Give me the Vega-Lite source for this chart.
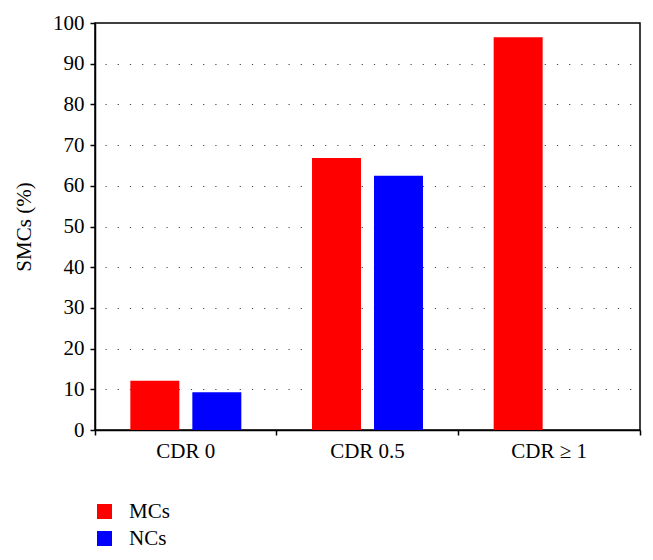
{
  "$schema": "https://vega.github.io/schema/vega-lite/v6.json",
  "autosize": {"type": "none"},
  "width": 545,
  "height": 407,
  "padding": {"left": 95, "top": 23, "right": 13, "bottom": 130},
  "background": "white",
  "config": {
    "font": "Liberation Serif",
    "view": {"stroke": "black", "strokeWidth": 1.5}
  },
  "data": {
    "values": [
      {"cdr": "CDR 0", "group": "MCs", "value": 12.1},
      {"cdr": "CDR 0", "group": "NCs", "value": 9.3},
      {"cdr": "CDR 0.5", "group": "MCs", "value": 66.8},
      {"cdr": "CDR 0.5", "group": "NCs", "value": 62.5},
      {"cdr": "CDR ≥ 1", "group": "MCs", "value": 96.5}
    ]
  },
  "mark": {"type": "bar"},
  "encoding": {
    "x": {
      "field": "cdr",
      "type": "nominal",
      "sort": ["CDR 0", "CDR 0.5", "CDR ≥ 1"],
      "scale": {"paddingInner": 0, "paddingOuter": 0},
      "axis": {
        "title": null,
        "labelAngle": 0,
        "labelFontSize": 21,
        "labelColor": "black",
        "labelPadding": 5,
        "domainColor": "black",
        "domainWidth": 1.5,
        "tickColor": "black",
        "tickWidth": 1.5,
        "tickSize": 5,
        "bandPosition": 1,
        "tickExtra": true,
        "grid": false
      }
    },
    "xOffset": {
      "field": "group",
      "type": "nominal",
      "scale": {"domain": ["MCs", "NCs"], "paddingInner": 0.21, "paddingOuter": 0.57}
    },
    "y": {
      "field": "value",
      "type": "quantitative",
      "scale": {"domain": [0, 100], "nice": false},
      "axis": {
        "title": "SMCs (%)",
        "titleFontSize": 21,
        "titleFontWeight": "normal",
        "titleColor": "black",
        "titlePadding": 18,
        "values": [0, 10, 20, 30, 40, 50, 60, 70, 80, 90, 100],
        "labelFontSize": 21,
        "labelColor": "black",
        "labelPadding": 6,
        "domainColor": "black",
        "domainWidth": 1.5,
        "tickColor": "black",
        "tickWidth": 1.5,
        "tickSize": 5,
        "grid": true,
        "gridColor": "#444",
        "gridWidth": 1,
        "gridDash": [1.2, 11],
        "gridDashOffset": -10
      }
    },
    "color": {
      "field": "group",
      "type": "nominal",
      "scale": {"domain": ["MCs", "NCs"], "range": ["#ff0000", "#0000ff"]},
      "legend": {
        "title": null,
        "orient": "none",
        "legendX": -1,
        "legendY": 478,
        "padding": 0,
        "symbolType": "square",
        "symbolSize": 225,
        "symbolStrokeWidth": 0,
        "symbolOpacity": 1,
        "labelFontSize": 21,
        "labelColor": "black",
        "labelOffset": 14,
        "rowPadding": 5
      }
    }
  }
}
